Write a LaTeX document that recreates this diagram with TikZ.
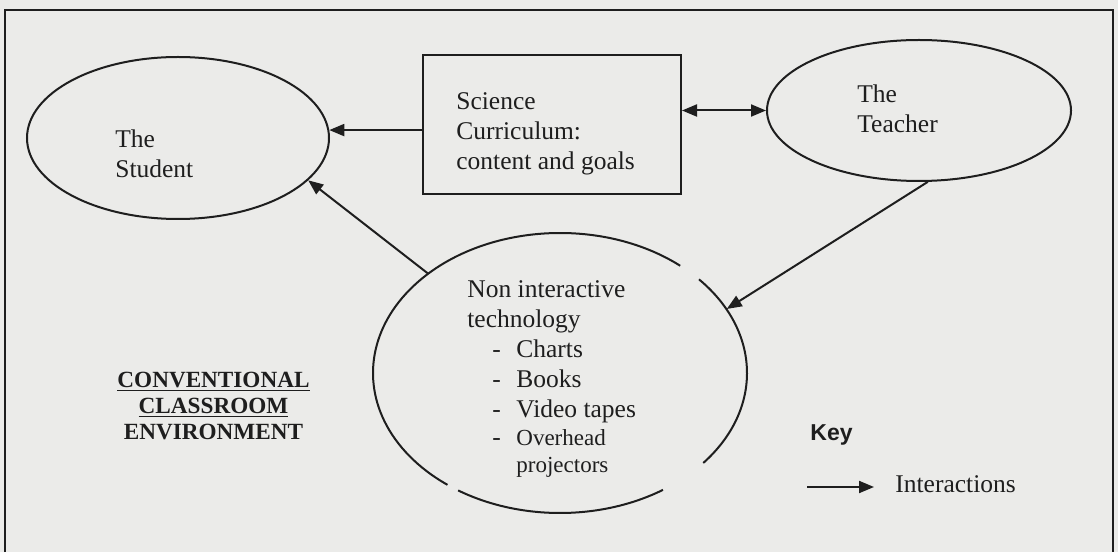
\documentclass[tikz,border=0pt]{standalone}
\usepackage{fontspec}
\setmainfont{Liberation Serif}
\newfontfamily\keyfont{Liberation Sans}
\usetikzlibrary{shapes.geometric,arrows.meta}
\definecolor{scan}{RGB}{235,235,233}
\definecolor{ink}{RGB}{30,30,30}
\newcommand{\mediaitem}[1]{\hspace*{12.5pt}\makebox[12pt][l]{-}#1}
\begin{document}
\begin{tikzpicture}[
    x=0.5pt, y=0.5pt,
    every node/.style={font=\fontsize{12.75}{15}\selectfont, text=ink},
    oval/.style={ellipse, draw=ink, line width=1pt, inner sep=0pt},
    txt/.style={anchor=west, align=left, inner sep=0pt},
    arr/.style={draw=ink, line width=1pt, -{Triangle[length=7.5pt,width=6pt]}},
    arrboth/.style={draw=ink, line width=1pt, {Triangle[length=7.5pt,width=6pt]}-{Triangle[length=7.5pt,width=6pt]}}
    ]
    \fill[scan] (0,0) rectangle (1118,552);
    \useasboundingbox (0,0) rectangle (1118,552);
    % frame, open at the bottom
    \draw[ink, line width=1pt] (5,0) -- (5,542) -- (1113,542) -- (1113,0);

    \node[oval, minimum width=151pt, minimum height=81pt] (student) at (178,414) {};
    \node[txt] (studenttxt) at (115,398) {The\\Student};

    \node[draw=ink, line width=1pt, inner sep=0pt, minimum width=129pt, minimum height=69.5pt] (curr) at (552,427.5) {};
    \node[txt] (currtxt) at (456,418) {Science\\Curriculum:\\content and goals};

    \node[oval, minimum width=152pt, minimum height=70.5pt] (teacher) at (919,441.5) {};
    \node[txt] (teachertxt) at (857,443) {The\\Teacher};

    % broken outline of the technology ellipse
    \node[ellipse, inner sep=0pt, minimum width=187pt, minimum height=140pt] (media) at (560,179) {};
    \foreach \a/\b in {50/233, 237/303.4, -40/42}
        \draw[ink, line width=1pt] (media.center) ++(\a:93.5pt and 70pt)
            arc[start angle=\a, end angle=\b, x radius=93.5pt, y radius=70pt];
    \node[txt] (mediatxt) at (467,172.5) {Non interactive\\
        technology\\
        \mediaitem{Charts}\\
        \mediaitem{Books}\\
        \mediaitem{Video tapes}\\[-1pt]
        \mediaitem{\fontsize{11.5}{13.5}\selectfont Overhead}\\[-1.5pt]
        \hspace*{24.5pt}{\fontsize{11.5}{13.5}\selectfont projectors}};

    \node[align=center, inner sep=0pt, font=\fontsize{11.6}{13}\selectfont\bfseries] (envtxt) at (213.5,146)
        {\underline{CONVENTIONAL}\\\underline{CLASSROOM}\\ENVIRONMENT};

    % key
    \node[txt, font=\keyfont\fontsize{11.5}{13}\selectfont\bfseries] (keytxt) at (810,117) {Key};
    \coordinate (keyA) at (807,65);
    \coordinate (keyB) at (874,65);
    \draw[arr] (keyA) -- (keyB);
    \node[txt] (keylabel) at (895,68) {Interactions};

    % interactions
    \draw[arr] (curr.west |- student.3) -- (student.3);
    \draw[arrboth] (curr.east |- teacher.west) -- (teacher.west);
    \draw[arr] (teacher.-83) -- (media.21.5);
    \draw[arr] (media.143) -- (student.-18);
\end{tikzpicture}
\end{document}
